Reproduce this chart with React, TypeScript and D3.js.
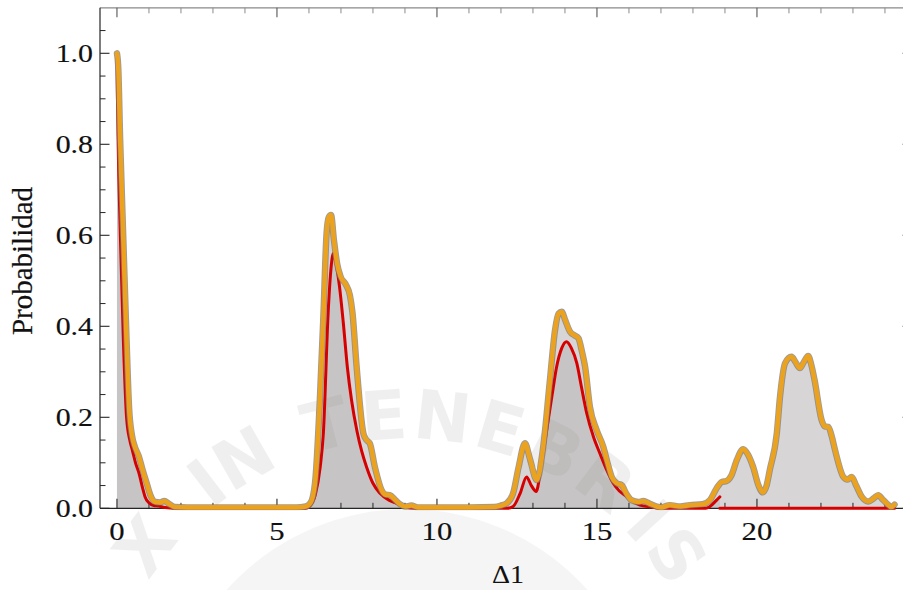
import React from "react";
import * as d3 from "d3";

// Total probability curve (orange, filled)
const totalX = [
  0, 0.04, 0.1, 0.2, 0.3, 0.38, 0.47, 0.56, 0.68, 0.8, 0.93, 1.05, 1.2, 1.35, 1.48, 1.62, 1.8, 2.2,
  3.0, 4.0, 5.0, 5.6, 5.9, 6.05, 6.19, 6.34, 6.45, 6.55, 6.62, 6.69, 6.78, 6.88, 6.99, 7.15, 7.28,
  7.36, 7.49, 7.7, 7.8, 7.9, 8.06, 8.27, 8.4, 8.53, 8.7, 8.84, 9.0, 9.2, 9.4, 10.0, 11.0, 11.8,
  12.0, 12.18, 12.38, 12.55, 12.75, 12.9, 13.12, 13.32, 13.53, 13.69, 13.8, 13.9, 14.0, 14.16, 14.3,
  14.42, 14.53, 14.63, 14.78, 14.99, 15.2, 15.33, 15.46, 15.62, 15.77, 15.92, 16.08, 16.3, 16.45,
  16.65, 16.87, 17.0, 17.28, 17.6, 17.9, 18.3, 18.53, 18.74, 18.9, 19.05, 19.2, 19.37, 19.57, 19.72,
  19.88, 20.05, 20.18, 20.3, 20.4, 20.62, 20.72, 20.88, 21.08, 21.2, 21.34, 21.47, 21.6, 21.7, 21.8,
  22.02, 22.12, 22.23, 22.33, 22.44, 22.7, 22.83, 22.96, 23.1, 23.27, 23.48, 23.65, 23.79, 23.92,
  24.05, 24.2, 24.3,
];
const totalP = [
  1.0, 0.97, 0.81, 0.59, 0.37, 0.22, 0.16, 0.135, 0.115, 0.085, 0.055, 0.028, 0.014, 0.013, 0.016, 0.01, 0.003, 0.002,
  0.002, 0.002, 0.002, 0.002, 0.004, 0.012, 0.056, 0.238, 0.421, 0.604, 0.64, 0.645, 0.59, 0.538, 0.509, 0.492, 0.468,
  0.43, 0.311, 0.165, 0.15, 0.143, 0.091, 0.04, 0.03, 0.029, 0.018, 0.009, 0.004, 0.006, 0.002, 0.002, 0.002, 0.003,
  0.006, 0.011, 0.033, 0.09, 0.143, 0.11, 0.062, 0.135, 0.282, 0.392, 0.428, 0.432, 0.415, 0.388, 0.38,
  0.374, 0.345, 0.311, 0.223, 0.172, 0.135, 0.1, 0.069, 0.055, 0.051, 0.032, 0.018, 0.014, 0.016,
  0.01, 0.004, 0.002, 0.007, 0.004, 0.007, 0.009, 0.018, 0.044, 0.058, 0.06, 0.072, 0.106, 0.13, 0.118,
  0.091, 0.05, 0.035, 0.05, 0.084, 0.165, 0.245, 0.319, 0.333, 0.322, 0.308, 0.322, 0.335, 0.315, 0.282,
  0.194, 0.18, 0.179, 0.16, 0.128, 0.069, 0.063, 0.069, 0.05, 0.026, 0.015, 0.022, 0.029, 0.02,
  0.011, 0.003, 0.008,
];

// Partial probability curve (red, filled)
const redX = [
  0, 0.015, 0.035, 0.11, 0.2, 0.3, 0.4, 0.48, 0.58, 0.69, 0.8, 0.88, 1.0, 1.15, 1.3, 1.5, 2.0,
  4.0, 5.9, 6.03, 6.2, 6.35, 6.45, 6.6, 6.68, 6.76, 6.84, 6.95, 7.07, 7.2, 7.33, 7.5, 7.65, 7.8,
  8.0, 8.22, 8.5, 8.74, 9.0, 9.3, 11.0, 12.2, 12.38, 12.6, 12.8, 12.95, 13.1, 13.25, 13.43, 13.6,
  13.74, 13.9, 14.05, 14.2, 14.37, 14.52, 14.68, 14.9, 15.09, 15.3, 15.51, 15.7, 15.93, 16.15,
  16.34, 16.7, 17.0, 18.4, 18.53, 18.74, 18.84,
];
const redP = [
  0.99, 0.9, 0.81, 0.59, 0.37, 0.2, 0.15, 0.128, 0.1, 0.077, 0.045, 0.025, 0.012, 0.006, 0.005, 0.002, 0.0,
  0.0, 0.0, 0.005, 0.03, 0.09, 0.165, 0.43, 0.52, 0.56, 0.54, 0.49, 0.41, 0.31, 0.238, 0.17, 0.125, 0.091,
  0.055, 0.033, 0.018, 0.011, 0.003, 0.0, 0.0, 0.0, 0.004, 0.033, 0.069, 0.05, 0.037, 0.09, 0.172, 0.25,
  0.311, 0.352, 0.366, 0.352, 0.319, 0.265, 0.209, 0.155, 0.121, 0.085, 0.055, 0.038, 0.026, 0.014,
  0.007, 0.003, 0.0, 0.0, 0.004, 0.018, 0.025,
];
const redTailX = [18.84, 24.3];
const redTailP = [0, 0];

const xMajorTicks = [0, 5, 10, 15, 20];
const xTickLabels = ["0", "5", "10", "15", "20"];
const yMajorTicks = [0, 0.2, 0.4, 0.6, 0.8, 1.0];
const yTickLabels = ["0.0", "0.2", "0.4", "0.6", "0.8", "1.0"];
const xAxisTitle = "Δ1";
const yAxisTitle = "Probabilidad";
const sealMotto = "XIN TENEBRIS";

const W = 903;
const H = 590;
const LEFT = 100;
const RIGHT = 912;
const BOTTOM = 508.3;
const PX_PER_UNIT_X = 32;
const PX_PER_UNIT_Y = 455;
const SERIF = "Liberation Serif, Times New Roman, Times, serif";
const SANS = "DejaVu Sans, Liberation Sans, sans-serif";

type Pt = [number, number];
const zip = (xs: number[], ys: number[]): Pt[] => xs.map((v, i) => [v, ys[i]]);

export default function App() {
  const x = d3
    .scaleLinear()
    .domain([-0.53, -0.53 + (RIGHT - LEFT) / PX_PER_UNIT_X])
    .range([LEFT, RIGHT]);
  const y = d3
    .scaleLinear()
    .domain([0, 1.1])
    .range([BOTTOM, BOTTOM - 1.1 * PX_PER_UNIT_Y]);
  const TOP = y(1.1);

  const line = d3
    .line<Pt>()
    .x((d) => x(d[0]))
    .y((d) => y(d[1]))
    .curve(d3.curveMonotoneX);
  const area = d3
    .area<Pt>()
    .x((d) => x(d[0]))
    .y0(y(0))
    .y1((d) => y(d[1]))
    .curve(d3.curveMonotoneX);

  const total = zip(totalX, totalP);
  const red = zip(redX, redP);
  const redTail = zip(redTailX, redTailP);

  const xMinor = d3.range(0, 25, 1).filter((v) => v % 5 !== 0);
  const yMinor = d3
    .range(0, 22, 1)
    .map((i) => i * 0.05)
    .filter((v, i) => i % 4 !== 0);

  const MAJ = 9.5;
  const MIN = 5.5;
  const axisDark = "#262626";
  const axisGray = "#8a8a8a";

  // Faint seal in the background
  const sealCx = 407;
  const sealCy = 743;
  const sealR = 328;
  const step = 10.3;
  let adv = -53;
  const sealGlyphs: { ch: string; a: number }[] = [];
  sealMotto.split("").forEach((ch) => {
    if (ch === " ") {
      adv += step * 0.5;
      return;
    }
    if (ch === "I" && adv < -40) adv += step * 0.5;
    sealGlyphs.push({ ch, a: adv });
    adv += ch === "I" ? step * 0.75 : step;
  });

  return (
    <svg
      width={W}
      height={H}
      style={{ position: "absolute", left: 0, top: 0, background: "#fff" }}
    >
      <defs>
        <clipPath id="plotClip">
          <rect x={LEFT} y={TOP - 4} width={RIGHT - LEFT} height={BOTTOM - TOP + 6} />
        </clipPath>
      </defs>

      {/* background seal */}
      <g>
        <circle cx={sealCx} cy={sealCy + 8} r={242} fill="#000" opacity={0.04} />
        {sealGlyphs.map((g, i) => {
          const rad = (g.a * Math.PI) / 180;
          const gx = sealCx + sealR * Math.sin(rad);
          const gy = sealCy - sealR * Math.cos(rad);
          return (
            <text
              key={i}
              x={0}
              y={0}
              transform={`translate(${gx},${gy}) rotate(${g.a})`}
              textAnchor="middle"
              dominantBaseline="central"
              fontFamily={SANS}
              fontWeight="bold"
              fontSize={68}
              fill="#000"
              opacity={0.06}
            >
              {g.ch}
            </text>
          );
        })}
      </g>

      {/* filled regions */}
      <g clipPath="url(#plotClip)">
        <path d={area(total) ?? ""} fill="#8f8a8a" opacity={0.36} />
        <path d={area(red) ?? ""} fill="#8f8a8a" opacity={0.22} />
      </g>

      {/* frame */}
      <g>
        <line x1={LEFT} x2={W} y1={TOP} y2={TOP} stroke={axisGray} strokeWidth={1.2} />
        <line x1={RIGHT} x2={RIGHT} y1={TOP} y2={BOTTOM} stroke={axisGray} strokeWidth={1.2} />
        <line x1={LEFT} x2={LEFT} y1={TOP} y2={BOTTOM} stroke={axisDark} strokeWidth={1.2} />
        <line x1={LEFT} x2={W} y1={BOTTOM} y2={BOTTOM} stroke={axisDark} strokeWidth={1.3} />

        {xMajorTicks.map((v) => (
          <g key={`xm${v}`}>
            <line x1={x(v)} x2={x(v)} y1={BOTTOM} y2={BOTTOM - MAJ} stroke={axisDark} strokeWidth={1.1} />
            <line x1={x(v)} x2={x(v)} y1={TOP} y2={TOP + MAJ} stroke="#555" strokeWidth={1.1} />
          </g>
        ))}
        {xMinor.map((v) => (
          <g key={`xn${v}`}>
            <line x1={x(v)} x2={x(v)} y1={BOTTOM} y2={BOTTOM - MIN} stroke={axisDark} strokeWidth={1} />
            <line x1={x(v)} x2={x(v)} y1={TOP} y2={TOP + MIN} stroke={axisGray} strokeWidth={1} />
          </g>
        ))}
        {yMajorTicks.map((v) => (
          <g key={`ym${v}`}>
            <line x1={LEFT} x2={LEFT + MAJ} y1={y(v)} y2={y(v)} stroke={axisDark} strokeWidth={1.1} />
            <line x1={RIGHT} x2={RIGHT - MAJ} y1={y(v)} y2={y(v)} stroke="#555" strokeWidth={1.1} />
          </g>
        ))}
        {yMinor.map((v) => (
          <g key={`yn${v}`}>
            <line x1={LEFT} x2={LEFT + MIN} y1={y(v)} y2={y(v)} stroke={axisDark} strokeWidth={1} />
            <line x1={RIGHT} x2={RIGHT - MIN} y1={y(v)} y2={y(v)} stroke={axisGray} strokeWidth={1} />
          </g>
        ))}
      </g>

      {/* curves */}
      <g clipPath="url(#plotClip)" fill="none" strokeLinejoin="round" strokeLinecap="round">
        <path d={line(red) ?? ""} stroke="#d60000" strokeWidth={3} />
        <path d={line(redTail) ?? ""} stroke="#d60000" strokeWidth={3} />
        <path d={line(total) ?? ""} stroke="#7d7a78" strokeWidth={6.4} opacity={0.75} />
        <path d={line(total) ?? ""} stroke="#eba21f" strokeWidth={4.6} />
      </g>

      {/* tick labels */}
      <g fontFamily={SERIF} fontSize={26} fill="#111" stroke="#111" strokeWidth={0.15}>
        {xMajorTicks.map((v, i) => (
          <text
            key={`xl${v}`}
            x={x(v)}
            y={BOTTOM + 31.5}
            textAnchor="middle"
            transform={`translate(${x(v)},0) scale(1.18,1) translate(${-x(v)},0)`}
          >
            {xTickLabels[i]}
          </text>
        ))}
        {yMajorTicks.map((v, i) => (
          <text
            key={`yl${v}`}
            x={LEFT - 7}
            y={y(v) + 9}
            textAnchor="end"
            transform={`translate(${LEFT - 7},0) scale(1.15,1) translate(${-(LEFT - 7)},0)`}
          >
            {yTickLabels[i]}
          </text>
        ))}
      </g>

      {/* axis titles */}
      <text
        x={508}
        y={583}
        textAnchor="middle"
        fontFamily={SERIF}
        fontSize={26}
        fill="#111"
        transform={`translate(508,0) scale(1.08,1) translate(-508,0)`}
      >
        {xAxisTitle}
      </text>
      <text
        transform={`translate(32,261) rotate(-90)`}
        textAnchor="middle"
        fontFamily={SERIF}
        fontSize={29}
        fill="#111"
        stroke="#111"
        strokeWidth={0.2}
      >
        {yAxisTitle}
      </text>
    </svg>
  );
}
